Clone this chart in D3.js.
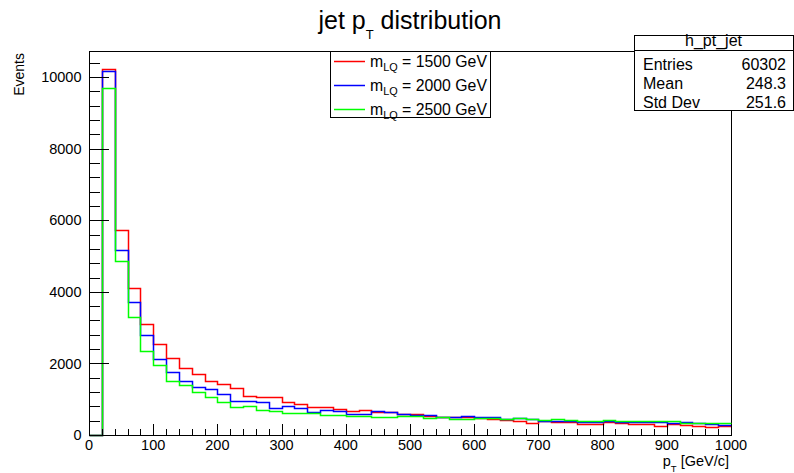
<!DOCTYPE html>
<html>
<head>
<meta charset="utf-8">
<script src="https://cdn.jsdelivr.net/npm/d3@7/dist/d3.min.js"></script>
<style>
  html, body { margin: 0; padding: 0; background: #fff; }
  svg { display: block; font-family: "Liberation Sans", Arial, Helvetica, sans-serif; }
</style>
</head>
<body>
<svg id="chart" width="794" height="473"></svg>
<script>
// ---------------- data ----------------
const xDomain = [0, 1000];
const yMax = 10730;
const binEdges = d3.range(0, 1000, 20); // low edges of the 50 bins (width 20)

const seriesNames = ["1500", "2000", "2500"];
const seriesColors = ["#ff0000", "#0000ff", "#00ff00"];

const red1500 = [0, 10220, 5720, 4100, 3090, 2550, 2140, 1880, 1710, 1518,
  1425, 1300, 1089, 1053, 1071, 922, 860, 770, 791, 720,
  665, 685, 650, 630, 590, 575, 540, 494, 505, 500,
  470, 447, 428, 395, 340, 395, 372, 372, 320, 320,
  363, 344, 298, 316, 261, 316, 279, 251, 223, 261];
const blue2000 = [0, 10170, 5160, 3720, 2800, 2120, 1770, 1518, 1350, 1276,
  1140, 960, 945, 915, 754, 805, 754, 642, 692, 665,
  600, 596, 670, 640, 577, 568, 555, 515, 500, 525,
  500, 494, 456, 488, 440, 405, 391, 391, 372, 372,
  391, 372, 372, 372, 372, 335, 353, 335, 298, 279];
const green2500 = [0, 9685, 4860, 3305, 2346, 1955, 1518, 1397, 1192, 1071,
  931, 787, 801, 708, 661, 605, 624, 610, 555, 550,
  531, 531, 508, 508, 535, 535, 484, 503, 442, 460,
  470, 466, 460, 480, 445, 425, 442, 410, 386, 386,
  410, 391, 381, 381, 381, 381, 344, 344, 326, 326];
const seriesValues = [red1500, blue2000, green2500];

const xMajorTicks = d3.range(0, 1001, 100);
const xMinorTicks = d3.range(0, 1001, 20);
const yMajorTicks = d3.range(0, 10001, 2000);
const yMinorTicks = d3.range(0, 10731, 400);

const statsTitle = "h_pt_jet";
const statsLabels = ["Entries", "Mean", "Std Dev"];
const statsValues = ["60302", "248.3", "251.6"];

// ---------------- layout ----------------
const L = 89, R = 731, T = 51, B = 435;
const svg = d3.select("#chart");
const x = d3.scaleLinear().domain(xDomain).range([L, R]);
const y = d3.scaleLinear().domain([0, yMax]).range([B, T]);

svg.append("rect").attr("width", 794).attr("height", 473).attr("fill", "#fff");

// frame
svg.append("rect")
  .attr("x", L + 0.5).attr("y", T + 0.5)
  .attr("width", R - L).attr("height", B - T)
  .attr("fill", "none").attr("stroke", "#000").attr("stroke-width", 1)
  .attr("shape-rendering", "crispEdges");

// histograms
const line = d3.line()
  .x(d => Math.round(x(d[0])) + 0.5)
  .y(d => Math.round(y(d[1])) + 0.5)
  .curve(d3.curveStepAfter);

seriesValues.forEach((vals, k) => {
  const pts = binEdges.map((e, i) => [e, vals[i]]);
  pts.push([xDomain[1], vals[vals.length - 1]]);
  svg.append("path")
    .attr("d", line(pts))
    .attr("fill", "none")
    .attr("stroke", seriesColors[k])
    .attr("stroke-width", 1.5)
    .attr("stroke-linejoin", "miter");
});

// axes ticks
const tickG = svg.append("g").attr("stroke", "#000").attr("stroke-width", 1)
  .attr("shape-rendering", "crispEdges");
xMinorTicks.forEach(v => {
  const major = v % 100 === 0;
  const px = Math.round(x(v)) + 0.5;
  tickG.append("line").attr("x1", px).attr("x2", px)
    .attr("y1", B).attr("y2", B - (major ? 11 : 6));
});
yMinorTicks.forEach(v => {
  const major = v % 2000 === 0;
  const py = Math.round(y(v)) + 0.5;
  tickG.append("line").attr("x1", L).attr("x2", L + (major ? 20 : 11))
    .attr("y1", py).attr("y2", py);
});

// tick labels
svg.append("g").selectAll("text").data(xMajorTicks).join("text")
  .attr("x", d => x(d)).attr("y", 449.5)
  .attr("text-anchor", "middle")
  .attr("font-size", "14.5px").attr("fill", "#000")
  .text(d => d);
svg.append("g").selectAll("text").data(yMajorTicks).join("text")
  .attr("x", 81.5).attr("y", d => y(d)).attr("dy", "0.36em")
  .attr("text-anchor", "end")
  .attr("font-size", "14.5px").attr("fill", "#000")
  .text(d => d);

// axis titles
svg.append("text")
  .attr("transform", "translate(24,53) rotate(-90)")
  .attr("text-anchor", "end")
  .attr("font-size", "14px")
  .text("Events");

const xt = svg.append("text")
  .attr("x", 729).attr("y", 465.5)
  .attr("text-anchor", "end")
  .attr("font-size", "14.5px");
xt.append("tspan").text("p");
xt.append("tspan").attr("dy", 6.5).attr("font-size", "9.5px").text("T");
xt.append("tspan").attr("dy", -6.5).text(" [GeV/c]");

// title
const tt = svg.append("text")
  .attr("x", 410).attr("y", 28.5)
  .attr("text-anchor", "middle")
  .attr("font-size", "25px");
tt.append("tspan").text("jet p");
tt.append("tspan").attr("dy", 10.5).attr("font-size", "13px").text("T");
tt.append("tspan").attr("dy", -10.5).text(" distribution");

// legend
const lg = svg.append("g");
lg.append("rect")
  .attr("x", 330.5).attr("y", 51.5).attr("width", 160).attr("height", 66)
  .attr("fill", "#fff").attr("stroke", "#000").attr("stroke-width", 1)
  .attr("shape-rendering", "crispEdges");
const rowY = [61.5, 85.5, 109.5];
seriesNames.forEach((name, k) => {
  lg.append("line")
    .attr("x1", 334).attr("x2", 365)
    .attr("y1", rowY[k]).attr("y2", rowY[k])
    .attr("stroke", seriesColors[k]).attr("stroke-width", 1.5);
  const t = lg.append("text")
    .attr("x", 370).attr("y", rowY[k] + 5.5)
    .attr("font-size", "16px");
  t.append("tspan").text("m");
  t.append("tspan").attr("dy", 4).attr("font-size", "11px").text("LQ");
  t.append("tspan").attr("dy", -4).text(" = " + name + " GeV");
  // fit the entry text to the width it has in the reference (370 -> 487)
  const w = t.node().getComputedTextLength();
  if (w > 0) {
    const s = 117 / w;
    t.attr("font-size", (16 * s).toFixed(2) + "px");
    t.select("tspan:nth-child(2)").attr("font-size", (11 * s).toFixed(2) + "px");
  }
});

// stats box
const sb = svg.append("g");
sb.append("rect")
  .attr("x", 634.5).attr("y", 35.5).attr("width", 159).attr("height", 75)
  .attr("fill", "#fff").attr("stroke", "#000").attr("stroke-width", 1)
  .attr("shape-rendering", "crispEdges");
sb.append("line")
  .attr("x1", 634.5).attr("x2", 794).attr("y1", 50.5).attr("y2", 50.5)
  .attr("stroke", "#000").attr("shape-rendering", "crispEdges");
sb.append("text")
  .attr("x", 713.5).attr("y", 46)
  .attr("text-anchor", "middle").attr("font-size", "16px")
  .text(statsTitle);
const rowBase = [69.5, 89, 108];
statsLabels.forEach((lab, i) => {
  sb.append("text").attr("x", 643).attr("y", rowBase[i])
    .attr("font-size", "16px").text(lab);
  sb.append("text").attr("x", 786).attr("y", rowBase[i])
    .attr("text-anchor", "end").attr("font-size", "16px").text(statsValues[i]);
});
</script>
</body>
</html>
